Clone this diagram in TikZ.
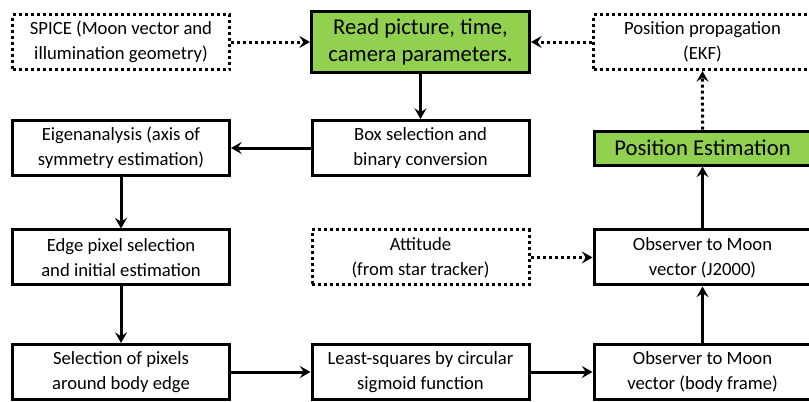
\documentclass[tikz,border=0pt]{standalone}
\usepackage{fontspec}
\setmainfont{Carlito}
\usepackage{xcolor}
\usetikzlibrary{arrows.meta,positioning}
\definecolor{leafgreen}{HTML}{92D050}

\begin{document}
\begin{tikzpicture}[
  x=0.75pt,y=-0.75pt,
  node distance=34pt,
  box/.style={draw=black,line width=2.25pt,minimum width=162.75pt,minimum height=41.25pt,
              inner sep=2pt,align=center,font=\fontsize{14}{18.75}\selectfont},
  dotbox/.style={box,dash pattern=on 2.25pt off 2.25pt},
  greenbox/.style={box,fill=leafgreen,font=\fontsize{17}{20.5}\selectfont},
  arr/.style={-{Stealth[length=8pt,width=9pt,inset=3pt]},line width=2.25pt},
  dotarr/.style={arr,dash pattern=on 2.25pt off 2.25pt}
]
\useasboundingbox (0,0) rectangle (809,401);
% top row
\node[greenbox,minimum width=163.5pt,minimum height=45.75pt] (read) at (420.5,42)
     {Read picture, time,\\camera parameters.};
\node[dotbox,left=59.25pt of read] (spice) {SPICE (Moon vector and\\illumination geometry)};
\node[dotbox,right=46.1pt of read] (prop) {Position propagation\\(EKF)};
% second row
\node[box,below=33.75pt of read] (boxsel) {Box selection and\\binary conversion};
\node[box,left=59.6pt of boxsel] (eigen) {Eigenanalysis (axis of\\symmetry estimation)};
\node[greenbox,minimum height=25.5pt,right=46.5pt of boxsel] (posest) {Position Estimation};
% third row
\node[box,below=38.6pt of eigen] (edge) {Edge pixel selection\\and initial estimation};
\node[dotbox,right=59.6pt of edge] (att) {Attitude\\(from star tracker)};
\node[box,right=46.5pt of att] (obsj) {Observer to Moon\\vector (J2000)};
% bottom row
\node[box,below=42.4pt of edge] (sel) {Selection of pixels\\around body edge};
\node[box,right=59.6pt of sel] (lsq) {Least-squares by circular\\sigmoid function};
\node[box,right=46.5pt of lsq] (obsb) {Observer to Moon\\vector (body frame)};

\draw[dotarr] (spice) -- (read);
\draw[dotarr] (prop) -- (read);
\draw[arr] (read) -- (boxsel);
\draw[arr] (boxsel) -- (eigen);
\draw[arr] (eigen) -- (edge);
\draw[arr] (edge) -- (sel);
\draw[arr] (sel) -- (lsq);
\draw[arr] (lsq) -- (obsb);
\draw[arr] (obsb) -- (obsj);
\draw[dotarr] (att) -- (obsj);
\draw[arr] (obsj) -- (posest);
\draw[dotarr] (posest) -- (prop);
\end{tikzpicture}
\end{document}
